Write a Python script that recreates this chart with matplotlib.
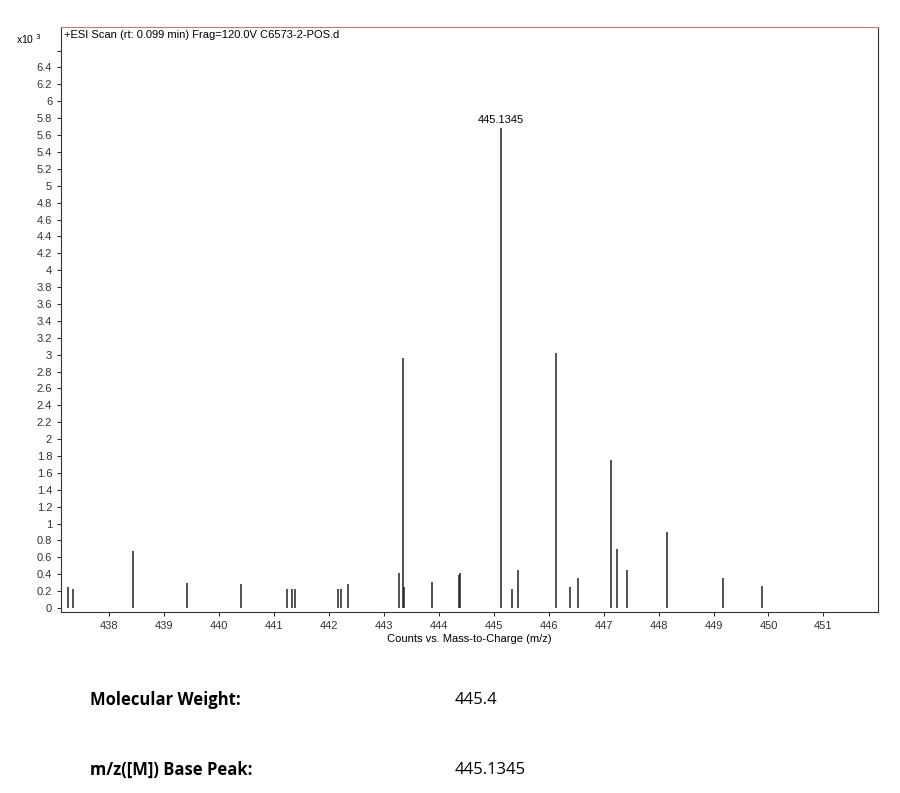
import matplotlib
matplotlib.use("Agg")
import matplotlib.pyplot as plt
import numpy as np

mz = [437.25,437.34,438.44,439.42,440.40,441.24,441.33,441.39,442.17,442.23,442.35,
      443.28,443.35,443.37,443.87,444.36,444.39,445.1345,445.34,445.45,446.14,446.38,446.54,
      447.14,447.25,447.42,448.16,449.18,449.89]
counts = [0.25,0.22,0.67,0.30,0.28,0.22,0.22,0.23,0.22,0.22,0.28,
          0.42,2.96,0.25,0.31,0.39,0.41,5.68,0.22,0.45,3.02,0.25,0.36,
          1.75,0.70,0.45,0.90,0.36,0.26]
xticks = [438,439,440,441,442,443,444,445,446,447,448,449,450,451]

plt.rcParams['font.family'] = ['Liberation Sans', 'DejaVu Sans']
fig = plt.figure(figsize=(9,7.93), dpi=100)
ax = fig.add_axes([0.068,0.228,0.908,0.738])
ax.vlines(mz, 0, counts, color='#222222', lw=1.1)
ax.set_xlim(437.13, 452.0)
ax.set_ylim(-0.05, 6.88)
ax.set_xticks(xticks)
yt = np.round(np.arange(0, 6.41, 0.2), 1)
ax.set_yticks(list(yt)+[6.6])
ax.set_yticklabels([("%g" % v) for v in yt]+[""])
ax.tick_params(labelsize=8, length=3, colors='#333333')
for s in ['right','bottom','left']:
    ax.spines[s].set_color('#333333')
ax.spines['top'].set_color('#c87878')
ax.set_xlabel("Counts vs. Mass-to-Charge (m/z)", fontsize=8, labelpad=2)
ax.text(0.003, 0.995, "+ESI Scan (rt: 0.099 min) Frag=120.0V C6573-2-POS.d", transform=ax.transAxes,
        fontsize=8, va='top', ha='left')
fig.text(0.018, 0.945, r"x10 $^{3}$", fontsize=7.5)
ax.text(445.1345, 5.72, "445.1345", fontsize=8, ha='center', va='bottom')

fig.text(0.1, 0.117, "Molecular Weight:", fontsize=12, fontweight='bold', family='Open Sans', va='center')
fig.text(0.505, 0.117, "445.4", fontsize=12, family='Open Sans', va='center')
fig.text(0.1, 0.029, "m/z([M]) Base Peak:", fontsize=12, fontweight='bold', family='Open Sans', va='center')
fig.text(0.505, 0.029, "445.1345", fontsize=12, family='Open Sans', va='center')
fig.savefig("out.png", dpi=100)
